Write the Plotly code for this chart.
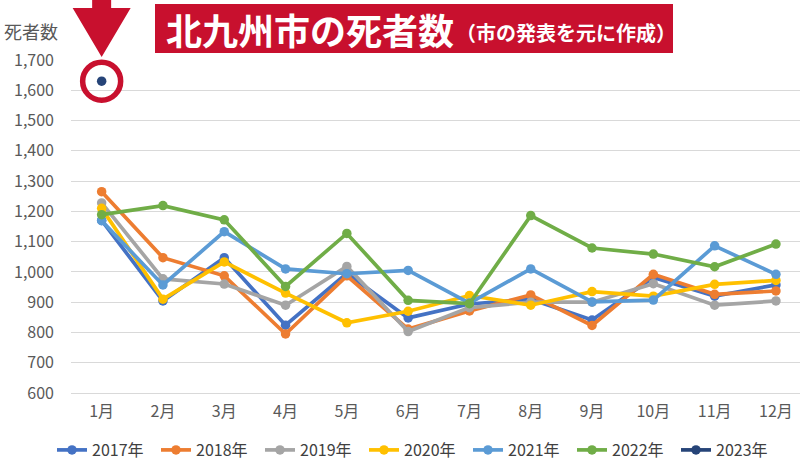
import plotly.graph_objects as go

months = ["1月", "2月", "3月", "4月", "5月", "6月", "7月", "8月", "9月", "10月", "11月", "12月"]

d2017 = [1170, 904, 1047, 824, 995, 848, 894, 910, 841, 982, 920, 957]
d2018 = [1265, 1047, 987, 795, 987, 811, 871, 924, 823, 992, 926, 937]
d2019 = [1228, 977, 960, 890, 1018, 803, 882, 900, 900, 961, 890, 904]
d2020 = [1210, 910, 1033, 930, 832, 870, 922, 890, 935, 920, 959, 972]
d2021 = [1169, 957, 1133, 1010, 994, 1005, 897, 1010, 901, 907, 1086, 992]
d2022 = [1189, 1219, 1172, 952, 1127, 906, 895, 1186, 1079, 1059, 1017, 1092]
d2023 = [1630]

series = [
    ("2017年", d2017, "#4472C4"),
    ("2018年", d2018, "#ED7D31"),
    ("2019年", d2019, "#A5A5A5"),
    ("2020年", d2020, "#FFC000"),
    ("2021年", d2021, "#5B9BD5"),
    ("2022年", d2022, "#70AD47"),
    ("2023年", d2023, "#264478"),
]

RED = "#C8102E"
FONT = "Noto Sans CJK JP"
GRAY = "#595959"

fig = go.Figure()
for name, vals, col in series:
    fig.add_trace(go.Scatter(
        x=months[:len(vals)], y=vals, name=name, mode="lines+markers",
        line=dict(color=col, width=3.7),
        marker=dict(color=col, size=9.5),
        cliponaxis=False,
    ))

# highlight ring around the 2023 January point
fig.add_trace(go.Scatter(
    x=months[:1], y=d2023, mode="markers", showlegend=False, hoverinfo="skip",
    marker=dict(symbol="circle-open", size=38, line=dict(color=RED, width=5.5), color=RED),
    cliponaxis=False,
))

L, T, B, W, H = 71, 60, 80, 800, 473
PW = W - L
PH = H - T - B


def px(p):
    return (p - L) / PW


def py(p):
    return (H - B - p) / PH


shapes = [
    # title box
    dict(type="rect", xref="paper", yref="paper",
         x0=px(155), x1=px(673), y0=py(53), y1=py(4),
         fillcolor=RED, line=dict(width=0), layer="above"),
    # down arrow
    dict(type="path", xref="x", yref="paper", xsizemode="pixel", xanchor=0,
         path=(f"M -9.5,{py(-5)} L 9.5,{py(-5)} L 9.5,{py(8)} L 29,{py(8)} "
               f"L 0,{py(57)} L -29,{py(8)} L -9.5,{py(8)} Z"),
         fillcolor=RED, line=dict(width=0), layer="above"),
]

annotations = [
    dict(text="<b>北九州市の死者数</b>", xref="paper", yref="paper",
         x=px(164), y=py(29), xanchor="left", yanchor="middle", showarrow=False,
         font=dict(family=FONT, size=36, color="white")),
    dict(text="<b>（市の発表を元に作成）</b>", xref="paper", yref="paper",
         x=px(454), y=py(33), xanchor="left", yanchor="middle", showarrow=False,
         font=dict(family=FONT, size=20, color="white")),
    dict(text="死者数", xref="paper", yref="paper",
         x=px(31), y=py(31), xanchor="center", yanchor="middle", showarrow=False,
         font=dict(family=FONT, size=18, color=GRAY)),
]

fig.update_layout(
    width=W, height=H,
    margin=dict(l=L, r=0, t=T, b=B, pad=0, autoexpand=False),
    paper_bgcolor="white", plot_bgcolor="white",
    font=dict(family=FONT, size=16, color=GRAY),
    shapes=shapes, annotations=annotations,
    legend=dict(orientation="h", xref="container", yref="container",
                x=0.52, y=1 - 450 / H, xanchor="center", yanchor="middle",
                font=dict(family=FONT, size=16, color="#404040"),
                itemwidth=30, entrywidth=59, traceorder="normal",
                bgcolor="rgba(0,0,0,0)"),
    xaxis=dict(type="category", categoryorder="array", categoryarray=months,
               range=[-0.5, 11.5 - 6.6 / 61.3],
               showgrid=False, zeroline=False, showline=True,
               linecolor="#D9D9D9", linewidth=1, ticks="",
               ticklabelstandoff=4, tickfont=dict(size=16, color=GRAY)),
    yaxis=dict(range=[600, 1700], dtick=100, tickformat=",",
               showgrid=True, gridcolor="#D9D9D9", gridwidth=1,
               zeroline=False, showline=False, ticks="", ticklabelstandoff=16,
               tickfont=dict(size=16, color=GRAY)),
    showlegend=True,
)

fig.write_html("out.html", config={"displayModeBar": False},
               post_script="document.body.style.margin='0';document.body.style.overflow='hidden';")
